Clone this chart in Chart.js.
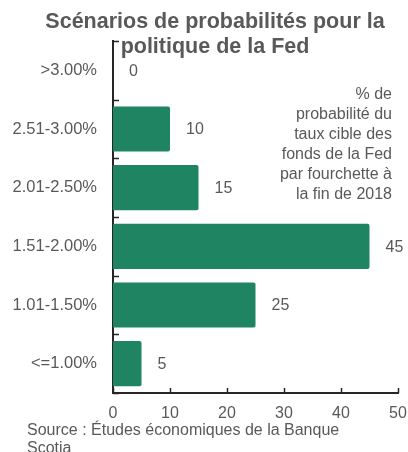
<!DOCTYPE html>
<html>
<head>
<meta charset="utf-8">
<script src="https://cdn.jsdelivr.net/npm/chart.js@4"></script>
<style>
  html, body { margin: 0; padding: 0; background: #fff; }
  #wrap { width: 408px; height: 452px; position: relative; }
</style>
</head>
<body>
<div id="wrap"><canvas id="fedChart"></canvas></div>
<script>
// données
const ranges = ['>3.00%', '2.51-3.00%', '2.01-2.50%', '1.51-2.00%', '1.01-1.50%', '<=1.00%'];
const probas = [0, 10, 15, 45, 25, 5];
const xTicks = [0, 10, 20, 30, 40, 50];
const titleLines = ['Scénarios de probabilités pour la', 'politique de la Fed'];
const noteLines = ['% de', 'probabilité du', 'taux cible des', 'fonds de la Fed', 'par fourchette à', 'la fin de 2018'];
const sourceLines = ['Source : Études économiques de la Banque', 'Scotia'];

const grey = '#595959';
const font = 'Liberation Sans, Arial, sans-serif';

// petites graduations vers l'intérieur + textes
const extras = {
  id: 'extras',
  afterDatasetsDraw(chart) {
    const c = chart.ctx;
    const x = chart.scales.x, y = chart.scales.y;
    c.save();
    c.strokeStyle = '#262626';
    c.lineWidth = 1.5;
    c.beginPath();
    xTicks.forEach(v => {
      const px = Math.round(x.getPixelForValue(v)) + 0.5;
      c.moveTo(px, y.bottom);
      c.lineTo(px, y.bottom - 5);
    });
    const step = y.getPixelForTick(1) - y.getPixelForTick(0);
    for (let i = 0; i <= ranges.length; i++) {
      const py = Math.round(y.getPixelForTick(0) - step / 2 + i * step) + 0.5;
      c.moveTo(x.left, py);
      c.lineTo(x.left + 6, py);
    }
    c.stroke();

    // valeurs
    c.fillStyle = grey;
    c.font = '16px ' + font;
    c.textAlign = 'left';
    c.textBaseline = 'middle';
    chart.getDatasetMeta(0).data.forEach((bar, i) => {
      c.fillText(String(probas[i]), bar.x + 16, bar.y + 1);
    });

    // titre
    c.font = 'bold 21.5px ' + font;
    c.textAlign = 'center';
    c.textBaseline = 'alphabetic';
    titleLines.forEach((t, i) => c.fillText(t, 215, 28 + i * 25));

    // note
    c.font = '16px ' + font;
    c.textAlign = 'right';
    noteLines.forEach((t, i) => c.fillText(t, 392, 99 + i * 20));

    // source
    c.textAlign = 'left';
    sourceLines.forEach((t, i) => c.fillText(t, 27, 435 + i * 18));
    c.restore();
  }
};

new Chart(document.getElementById('fedChart'), {
  type: 'bar',
  data: {
    labels: ranges,
    datasets: [{
      data: probas,
      backgroundColor: '#1e8462',
      borderRadius: 2,
      borderSkipped: 'left',
      barPercentage: 0.77,
      categoryPercentage: 1
    }]
  },
  options: {
    indexAxis: 'y',
    responsive: true,
    maintainAspectRatio: false,
    animation: false,
    layout: { padding: { top: 41, right: 10, left: 0, bottom: 0 } },
    plugins: { legend: { display: false }, tooltip: { enabled: false } },
    scales: {
      x: {
        min: 0,
        max: 50,
        afterBuildTicks: s => { s.ticks = xTicks.map(v => ({ value: v })); },
        afterFit: s => { s.height = 59; s.paddingLeft = 0; s.paddingRight = 0; },
        grid: { display: false, drawTicks: false },
        border: { color: '#262626', width: 2 },
        ticks: { color: grey, font: { family: font, size: 16 }, padding: 11 }
      },
      y: {
        afterFit: s => { s.width = 113; s.paddingTop = 0; s.paddingBottom = 0; },
        grid: { display: false, drawTicks: false },
        border: { color: '#262626', width: 2 },
        ticks: { color: grey, font: { family: font, size: 16.5 }, padding: 16 }
      }
    }
  },
  plugins: [extras]
});
</script>
</body>
</html>
